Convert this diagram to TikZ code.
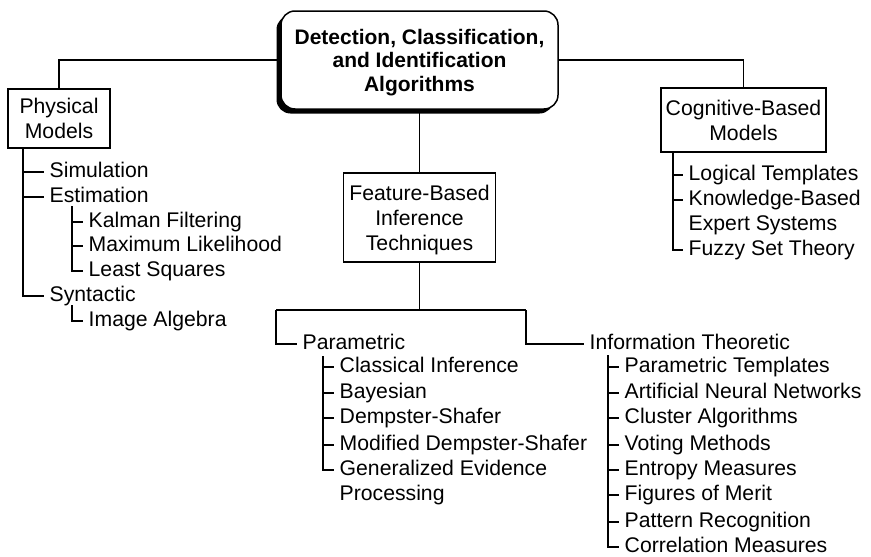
\documentclass[tikz,border=0pt]{standalone}
\usepackage{fontspec}
\setmainfont{Liberation Sans}
\usetikzlibrary{positioning,shadows}

\tikzset{
  box/.style={draw, line width=1.2pt, align=center, inner sep=0pt, fill=white, text depth=0pt},
  algbox/.style={box, line width=1.5pt, rounded corners=14pt,
    font=\fontsize{21}{23.5}\selectfont\bfseries,
    general shadow={fill=black, shadow xshift=-4.5pt, shadow yshift=-4.5pt}},
  leaf/.style={anchor=west, inner xsep=5.5pt, inner ysep=0pt, text height=10pt, text depth=0pt},
  wire/.style={line width=1.2pt},
}

\begin{document}
\begin{tikzpicture}[x=1pt, y=-1pt, font=\fontsize{21.2}{25}\selectfont]
  \useasboundingbox (0,0) rectangle (871,557);
  % top level boxes
  \node[algbox, minimum width=277pt, minimum height=98pt] (alg) at (419.5,60) {Detection, Classification,\\and Identification\\Algorithms};
  \node[box, minimum width=102pt, minimum height=59pt] (phys) at (59,118.5) {Physical\\Models};
  \node[box, minimum width=152pt, minimum height=89pt] (feat) at (419.5,217.5) {Feature-Based\\Inference\\Techniques};
  \node[box, minimum width=165pt, minimum height=64pt] (cog) at (743.5,120) {Cognitive-Based\\Models};
  \draw[wire] (alg.west) -| (phys.north);
  \draw[wire] (alg.east) -| (cog.north);
  \draw[wire] (alg.south) -- (feat.north);

  % physical models
  \coordinate (physbar) at (23,148);
  \node[leaf] (sim) at (44,172) {Simulation};
  \node[leaf] (est) at (44,197) {Estimation};
  \node[leaf] (syn) at (44,296) {Syntactic};
  \draw[wire] (physbar) |- (syn.west);
  \draw[wire] (physbar |- sim.west) -- (sim.west);
  \draw[wire] (physbar |- est.west) -- (est.west);
  \coordinate (estbar) at (72,206);
  \node[leaf] (kal) at (83,222) {Kalman Filtering};
  \node[leaf] (mle) at (83,246) {Maximum Likelihood};
  \node[leaf] (lsq) at (83,271) {Least Squares};
  \draw[wire] (estbar) |- (lsq.west);
  \draw[wire] (estbar |- kal.west) -- (kal.west);
  \draw[wire] (estbar |- mle.west) -- (mle.west);
  \coordinate (synbar) at (72,305);
  \node[leaf] (img) at (83,321) {Image Algebra};
  \draw[wire] (synbar) |- (img.west);

  % cognitive-based models
  \coordinate (cogbar) at (673,152);
  \node[leaf] (ltm) at (683,175) {Logical Templates};
  \node[leaf] (kbs) at (683,200) {Knowledge-Based};
  \node[leaf] (exs) at (683,225) {Expert Systems};
  \node[leaf] (fst) at (683,250) {Fuzzy Set Theory};
  \draw[wire] (cogbar) |- (fst.west);
  \draw[wire] (cogbar |- ltm.west) -- (ltm.west);
  \draw[wire] (cogbar |- kbs.west) -- (kbs.west);

  % feature-based split
  \coordinate (parturn) at (276,310);
  \coordinate (infturn) at (526,310);
  \node[leaf] (par) at (297,344) {Parametric};
  \node[leaf] (inf) at (584,344) {Information Theoretic};
  \draw[wire] (feat.south) -- (feat.south |- parturn);
  \draw[wire] (parturn) -- (infturn);
  \draw[wire] (parturn) |- (par.west);
  \draw[wire] (infturn) |- (inf.west);

  % parametric
  \coordinate (parbar) at (323,356);
  \node[leaf] (cls) at (334,367) {Classical Inference};
  \node[leaf] (bay) at (334,393) {Bayesian};
  \node[leaf] (dst) at (334,418) {Dempster-Shafer};
  \node[leaf] (mds) at (334,445) {Modified Dempster-Shafer};
  \node[leaf] (gep) at (334,470) {Generalized Evidence};
  \node[leaf] (gepb) at (334,495) {Processing};
  \draw[wire] (parbar) |- (gep.west);
  \draw[wire] (parbar |- cls.west) -- (cls.west);
  \draw[wire] (parbar |- bay.west) -- (bay.west);
  \draw[wire] (parbar |- dst.west) -- (dst.west);
  \draw[wire] (parbar |- mds.west) -- (mds.west);

  % information theoretic
  \coordinate (infbar) at (608,355);
  \node[leaf] (pte) at (619,367) {Parametric Templates};
  \node[leaf] (ann) at (619,393) {Artificial Neural Networks};
  \node[leaf] (cla) at (619,418) {Cluster Algorithms};
  \node[leaf] (vot) at (619,445) {Voting Methods};
  \node[leaf] (ent) at (619,470) {Entropy Measures};
  \node[leaf] (fom) at (619,495) {Figures of Merit};
  \node[leaf] (pat) at (619,522) {Pattern Recognition};
  \node[leaf] (cor) at (619,547) {Correlation Measures};
  \draw[wire] (infbar) |- (cor.west);
  \draw[wire] (infbar |- pte.west) -- (pte.west);
  \draw[wire] (infbar |- ann.west) -- (ann.west);
  \draw[wire] (infbar |- cla.west) -- (cla.west);
  \draw[wire] (infbar |- vot.west) -- (vot.west);
  \draw[wire] (infbar |- ent.west) -- (ent.west);
  \draw[wire] (infbar |- fom.west) -- (fom.west);
  \draw[wire] (infbar |- pat.west) -- (pat.west);
\end{tikzpicture}
\end{document}
